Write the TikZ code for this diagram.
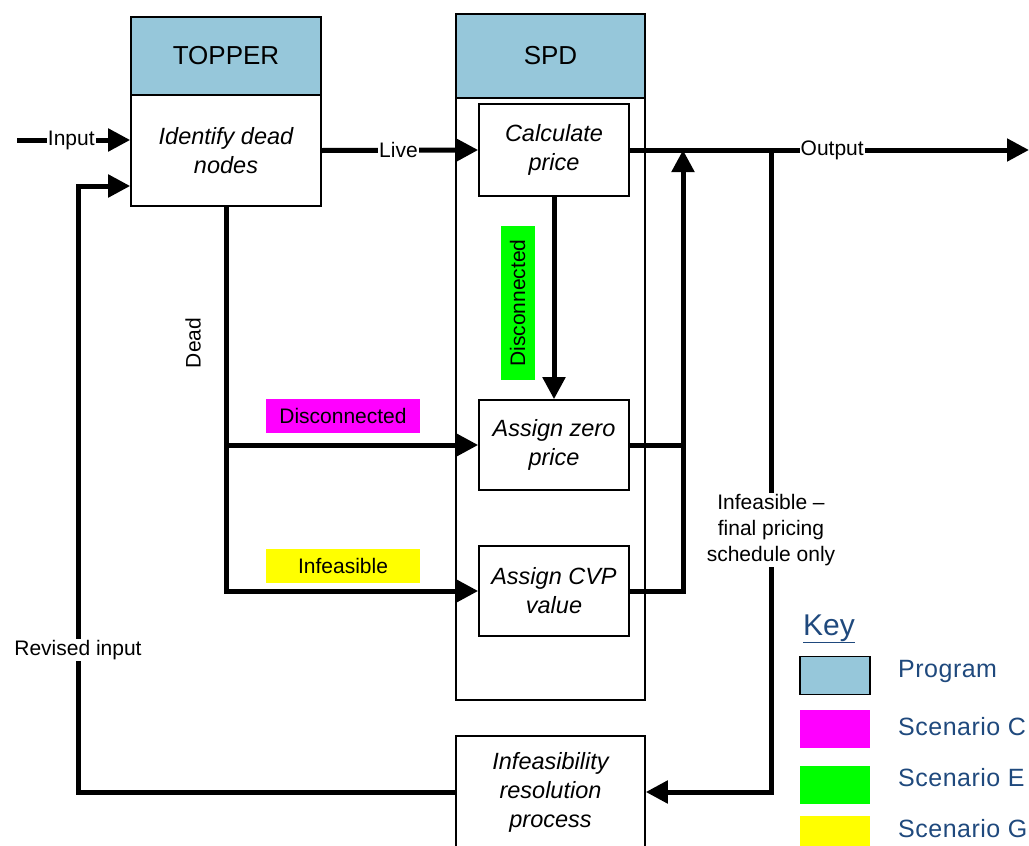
\documentclass[tikz,border=0pt]{standalone}
\usepackage{fontspec}
\setmainfont{Liberation Sans}
\usetikzlibrary{arrows.meta,calc}
\definecolor{progblue}{RGB}{150,199,218}
\definecolor{keyblue}{RGB}{31,73,125}
\definecolor{scenC}{RGB}{255,0,255}
\definecolor{scenE}{RGB}{0,255,0}
\definecolor{scenG}{RGB}{255,255,0}
\begin{document}
\begin{tikzpicture}[x=1pt,y=-1pt,
  hdr/.style={draw, line width=1.6pt, fill=progblue, inner sep=0pt, font=\fontsize{26}{30}\selectfont},
  frame/.style={draw, line width=1.6pt, fill=white, inner sep=0pt},
  proc/.style={draw, line width=1.6pt, fill=white, inner sep=0pt, align=center, minimum width=150pt, font=\fontsize{23.5}{29}\selectfont\itshape},
  lbl/.style={fill=white, inner sep=1pt, font=\fontsize{21}{26}\selectfont},
  tag/.style={inner sep=0pt, minimum width=154pt, minimum height=34pt, font=\fontsize{21}{26}\selectfont},
  flow/.style={line width=5pt},
  arr/.style={flow, -{Triangle[length=22pt,width=22pt]}},
  swatch/.style={minimum width=70pt, minimum height=38pt, inner sep=0pt},
  keytext/.style={anchor=base west, inner sep=0pt, text=keyblue, font=\fontsize{25}{30}\selectfont\addfontfeatures{LetterSpace=2}},
]
\useasboundingbox (0,0) rectangle (1029,846);
\clip (0,0) rectangle (1029,846);

% TOPPER
\node[hdr, minimum width=190pt, minimum height=78pt] (toph) at (226,56) {TOPPER};
\node[proc, minimum width=190pt, minimum height=111pt] (topb) at (226,150.5) {Identify dead\\nodes};

% SPD
\node[frame, minimum width=189pt, minimum height=602pt] (spdb) at (550.5,399) {};
\node[hdr, minimum width=189pt, minimum height=84pt] (spdh) at (550.5,56) {SPD};
\node[proc, minimum height=92pt] (calc) at (554,150) {Calculate\\price};
\node[proc, minimum height=90pt] (zero) at (554,445) {Assign zero\\price};
\node[proc, minimum height=90pt] (cvp) at (554,591) {Assign CVP\\value};

% Infeasibility resolution
\node[proc, minimum width=189pt, minimum height=112pt] (inf) at (550.5,792) {Infeasibility\\resolution\\process};

% tags
\node[tag, fill=scenC] (ctag) at (343,416) {Disconnected};
\node[tag, fill=scenG] (gtag) at (343,566) {Infeasible};
\node[tag, fill=scenE, rotate=90] (etag) at (517.5,303) {Disconnected};
\node[lbl, rotate=90] (deadl) at (193,343) {Dead};

% coordinates
\coordinate (inL) at (17,140);
\coordinate (rv1) at (78,792);
\coordinate (rv2) at (78,186);
\coordinate (outE) at (1029,150);
\coordinate (j) at (683,150);
\coordinate (k) at (771,150);
\coordinate (k2) at (771,792);

% connectors
\draw[arr] (inL) -- node[lbl, pos=0.48] {Input} (topb.west |- inL);
\draw[arr] (inf.west) -- (rv1) -- node[lbl, pos=0.234] {Revised input} (rv2) -- (topb.west |- rv2);
\draw[arr] (topb.east) -- node[lbl, pos=0.49] {Live} (calc.west);
\draw[arr] (topb.south) |- (cvp.west);
\draw[arr] (topb.south |- zero.west) -- (zero.west);
\draw[arr] (calc.south) -- (zero.north);
\draw[flow] (zero.east) -- (zero.east -| j);
\draw[arr] (cvp.east) -| (j);
\draw[arr] (calc.east) -- node[lbl, pos=0.507] {Output} (outE);
\draw[arr] (k) -- node[lbl, pos=0.592, align=center] {Infeasible --\\final pricing\\schedule only} (k2) -- (inf.east);

% Key
\node[text=keyblue, font=\fontsize{30}{34}\selectfont, inner sep=0pt, anchor=base west] (key) at (803,635) {\underline{Key}};
\node[swatch, draw=black, line width=1.6pt, fill=progblue] (sw1) at (835,675.5) {};
\node[swatch, fill=scenC] (sw2) at (835,728.5) {};
\node[swatch, fill=scenE] (sw3) at (835,784.5) {};
\node[swatch, fill=scenG] (sw4) at (835,835) {};
\node[keytext] (k1) at (898,677) {Program};
\node[keytext] (k2t) at (898,735) {Scenario C};
\node[keytext] (k3t) at (898,786) {Scenario E};
\node[keytext] (k4t) at (898,837) {Scenario G};
\end{tikzpicture}
\end{document}
